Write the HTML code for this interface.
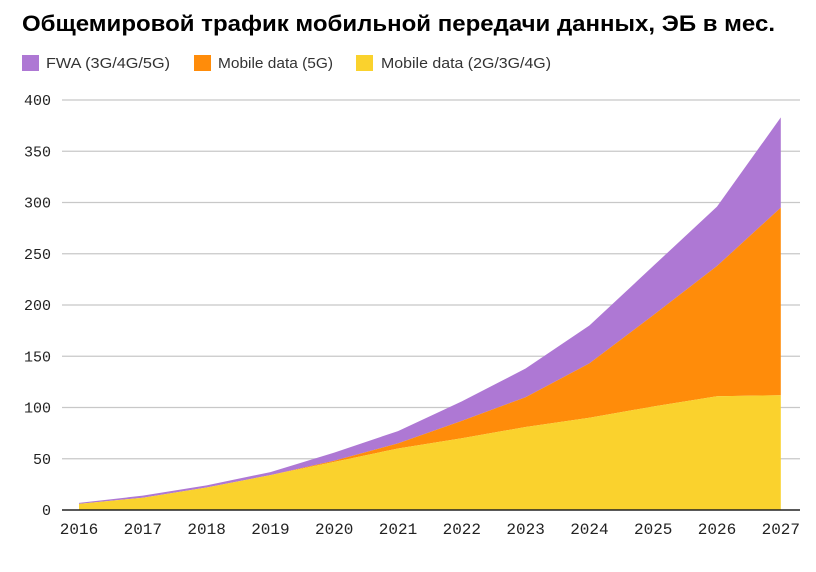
<!DOCTYPE html>
<html><head><meta charset="utf-8"><style>
body{margin:0;background:#fff;width:816px;height:567px;overflow:hidden;font-family:"Liberation Sans",sans-serif}
</style></head><body>
<svg width="816" height="567" id="c">
<text x="22" y="31" font-size="22" font-weight="bold" fill="#000" textLength="753" lengthAdjust="spacingAndGlyphs">Общемировой трафик мобильной передачи данных, ЭБ в мес.</text>
<g>
<rect x="22" y="55" width="17" height="16" fill="#ae78d4"/>
<text x="46" y="68" font-size="15" fill="#333" textLength="124" lengthAdjust="spacingAndGlyphs">FWA (3G/4G/5G)</text>
<rect x="194" y="55" width="17" height="16" fill="#ff8c0a"/>
<text x="218" y="68" font-size="15" fill="#333" textLength="115" lengthAdjust="spacingAndGlyphs">Mobile data (5G)</text>
<rect x="356" y="55" width="17" height="16" fill="#fad22d"/>
<text x="381" y="68" font-size="15" fill="#333" textLength="170" lengthAdjust="spacingAndGlyphs">Mobile data (2G/3G/4G)</text>
</g>
<g id="grid"></g><g id="areas"></g><g id="axes"></g>
</svg>
<script>
const years=["2016","2017","2018","2019","2020","2021","2022","2023","2024","2025","2026","2027"];
const legacy=[6,12,22,34,47,60,70,81,90,101,111,112];
const nr5g=[0,0,0,0,1,5,17,29,53,89,127,183];
const fwa=[1,2,2,3,8,12,19,28,37,48,58,88];
const yTicks=[0,50,100,150,200,250,300,350,400];
const NS="http://www.w3.org/2000/svg";
const x=i=>79+i*63.8;
const y=v=>510-v*1.025;
const grid=document.getElementById('grid'),areas=document.getElementById('areas'),axes=document.getElementById('axes');
yTicks.forEach(t=>{
 if(t>0){const l=document.createElementNS(NS,'line');
 l.setAttribute('x1',62);l.setAttribute('x2',800);l.setAttribute('y1',y(t));l.setAttribute('y2',y(t));
 l.setAttribute('stroke','#c8c8c8');l.setAttribute('stroke-width','1.2');
 
 
 grid.appendChild(l);}
 const tx=document.createElementNS(NS,'text');
 tx.setAttribute('x',51);tx.setAttribute('y',y(t)+5);tx.setAttribute('text-anchor','end');
 tx.setAttribute('font-size','15');tx.setAttribute('font-family','Liberation Mono, monospace');tx.setAttribute('fill','#222');
 tx.textContent=t;
 
 
 axes.appendChild(tx);
});
const b1=legacy.map(v=>v), b2=legacy.map((v,i)=>v+nr5g[i]), b3=b2.map((v,i)=>v+fwa[i]);
function area(top,bot,color,name){
 let d='M'+top.map((v,i)=>x(i)+','+y(v)).join('L');
 for(let i=bot.length-1;i>=0;i--)d+='L'+x(i)+','+y(bot[i]);
 const p=document.createElementNS(NS,'path');p.setAttribute('d',d+'Z');p.setAttribute('fill',color);
 
 
 areas.appendChild(p);
}
const zero=years.map(()=>0);
area(b3,b2,'#ae78d4','area-fwa');
area(b2,b1,'#ff8c0a','area-5g');
area(b1,zero,'#fad22d','area-legacy');
const ax=document.createElementNS(NS,'line');
ax.setAttribute('x1',62);ax.setAttribute('x2',800);ax.setAttribute('y1',510);ax.setAttribute('y2',510);ax.setAttribute('stroke','#222');ax.setAttribute('stroke-width','1.5');


axes.appendChild(ax);
years.forEach((yr,i)=>{
 const tx=document.createElementNS(NS,'text');
 tx.setAttribute('x',x(i));tx.setAttribute('y',534);tx.setAttribute('text-anchor','middle');
 tx.setAttribute('font-size','16');tx.setAttribute('font-family','Liberation Mono, monospace');tx.setAttribute('fill','#222');
 tx.textContent=yr;
 
 
 axes.appendChild(tx);
});
</script>
</body></html>
